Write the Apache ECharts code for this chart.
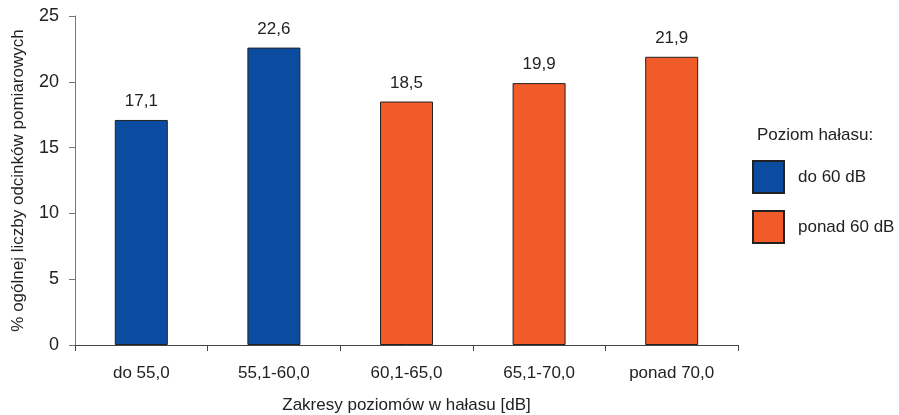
<!DOCTYPE html>
<html>
<head>
<meta charset="utf-8">
<script src="https://cdn.jsdelivr.net/npm/echarts@6/dist/echarts.min.js"></script>
<style>
  html, body { margin: 0; padding: 0; background: #fff; }
  #chart { width: 899px; height: 415px; }
</style>
</head>
<body>
<div id="chart"></div>
<script>
// dane z wykresu
const categories = ['do 55,0', '55,1-60,0', '60,1-65,0', '65,1-70,0', 'ponad 70,0']
const lowValues = [17.1, 22.6, '-', '-', '-']   // do 60 dB
const highValues = ['-', '-', 18.5, 19.9, 21.9] // ponad 60 dB
const yTicks = [0, 5, 10, 15, 20, 25]

const font = 'Liberation Sans, Arial, sans-serif'
const fmt = p => Number(p.value).toFixed(1).replace('.', ',')

const chart = echarts.init(document.getElementById('chart'))

const barLabel = {
  show: true,
  position: 'top',
  distance: 10,
  color: '#222',
  fontSize: 17,
  fontFamily: font,
  formatter: fmt
}

chart.setOption({
  animation: false,
  title: {
    text: 'Poziom hałasu:',
    left: 752,
    top: 122,
    textStyle: { fontSize: 17, fontWeight: 'normal', color: '#222', fontFamily: font }
  },
  legend: {
    orient: 'vertical',
    left: 747,
    top: 155,
    itemWidth: 31,
    itemHeight: 32,
    itemGap: 16,
    icon: 'rect',
    textStyle: { fontSize: 17, color: '#222', fontFamily: font, padding: [0, 0, 0, 9] },
    data: ['do 60 dB', 'ponad 60 dB']
  },
  grid: { left: 75, right: 161, top: 16, bottom: 70, containLabel: false, outerBoundsMode: 'none' },
  xAxis: {
    type: 'category',
    data: categories,
    axisLine: { lineStyle: { color: '#444', width: 1 } },
    axisTick: { show: true, length: 6, lineStyle: { color: '#444' } },
    axisLabel: { fontSize: 17, color: '#222', fontFamily: font, margin: 20 },
    name: 'Zakresy poziomów w hałasu [dB]',
    nameLocation: 'middle',
    nameGap: 52,
    nameTextStyle: { fontSize: 17, color: '#222', fontFamily: font }
  },
  yAxis: {
    type: 'value',
    min: yTicks[0],
    max: yTicks[yTicks.length - 1],
    interval: 5,
    axisLine: { show: true, lineStyle: { color: '#777', width: 1 } },
    axisTick: { show: true, length: 6, lineStyle: { color: '#777' } },
    splitLine: { show: false },
    axisLabel: { fontSize: 18, color: '#222', fontFamily: font, margin: 16 },
    name: '% ogólnej liczby odcinków pomiarowych',
    nameLocation: 'middle',
    nameGap: 48,
    nameTextStyle: { fontSize: 17, color: '#222', fontFamily: font }
  },
  series: [
    {
      name: 'do 60 dB',
      type: 'bar',
      data: lowValues,
      barWidth: 53,
      barGap: '-100%',
      itemStyle: { color: '#0c4ca0', borderColor: '#222', borderWidth: 1 },
      label: barLabel
    },
    {
      name: 'ponad 60 dB',
      type: 'bar',
      data: highValues,
      barWidth: 53,
      itemStyle: { color: '#f15a29', borderColor: '#222', borderWidth: 1 },
      label: barLabel
    }
  ]
})
</script>
</body>
</html>
